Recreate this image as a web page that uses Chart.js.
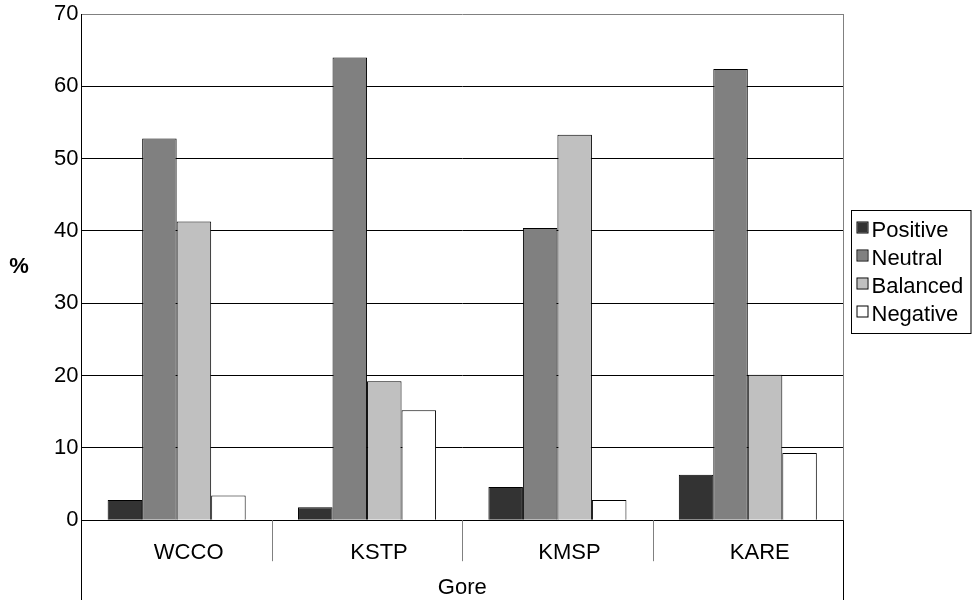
<!DOCTYPE html>
<html>
<head>
<meta charset="utf-8">
<script src="https://cdn.jsdelivr.net/npm/chart.js@4.4.0/dist/chart.umd.min.js"></script>
<style>
html, body { margin: 0; padding: 0; background: #fff; }
#wrap { width: 972px; height: 603px; position: relative; }
</style>
</head>
<body>
<div id="wrap"><canvas id="chart"></canvas></div>
<script>
// Data
const stations = ['WCCO', 'KSTP', 'KMSP', 'KARE'];
const groupLabel = 'Gore';
const seriesNames = ['Positive', 'Neutral', 'Balanced', 'Negative'];
const positive = [2.8, 1.8, 4.6, 6.3];
const neutral = [52.8, 64.0, 40.4, 62.4];
const balanced = [41.3, 19.2, 53.3, 20.1];
const negative = [3.4, 15.2, 2.8, 9.3];
const yMax = 70;
const yStep = 10;

const FONT = '"Liberation Sans", Arial, sans-serif';
const seriesColors = ['#333333', '#808080', '#c0c0c0', '#ffffff'];

// Extra decorations: category dividers, frame edges, "%" label and a boxed legend
const decorations = {
    id: 'decorations',
    afterDraw(chart) {
        const { ctx, chartArea, scales } = chart;
        const x = scales.x;
        const bottom = chart.height - 3;
        const half = (x.getPixelForValue(1) - x.getPixelForValue(0)) / 2;
        ctx.save();
        ctx.lineWidth = 1;

        // dividers between categories
        ctx.strokeStyle = '#808080';
        for (let i = 1; i < stations.length; i++) {
            const px = Math.round(x.getPixelForValue(i) - half) + 0.5;
            ctx.beginPath();
            ctx.moveTo(px, chartArea.bottom);
            ctx.lineTo(px, chartArea.bottom + 41);
            ctx.stroke();
        }

        // left and right edges running down through the label area
        const l = Math.round(chartArea.left) + 0.5;
        const r = Math.round(chartArea.right) + 0.5;
        ctx.strokeStyle = '#000';
        ctx.beginPath();
        ctx.moveTo(l, chartArea.bottom);
        ctx.lineTo(l, bottom);
        ctx.moveTo(r, chartArea.bottom);
        ctx.lineTo(r, bottom);
        ctx.stroke();
        ctx.strokeStyle = '#808080';
        ctx.beginPath();
        ctx.moveTo(r, chartArea.top);
        ctx.lineTo(r, chartArea.bottom);
        ctx.stroke();

        // "%" axis label, drawn upright
        ctx.fillStyle = '#000';
        ctx.font = 'bold 22px ' + FONT;
        ctx.textAlign = 'center';
        ctx.textBaseline = 'middle';
        ctx.fillText('%', 19, (chartArea.top + chartArea.bottom) / 2);

        // legend with a frame
        const fx = r + 8;
        const fy = Math.round((chartArea.top + chartArea.bottom) / 2) - 56.5;
        const rowH = 28;
        ctx.strokeStyle = '#000';
        ctx.strokeRect(fx, fy, 971 - fx, 123);
        ctx.font = '22px ' + FONT;
        ctx.textAlign = 'left';
        ctx.textBaseline = 'middle';
        chart.data.datasets.forEach((ds, i) => {
            const cy = fy + 19 + i * rowH;
            ctx.fillStyle = ds.backgroundColor;
            ctx.fillRect(fx + 6, cy - 7, 10, 10);
            ctx.strokeRect(fx + 5.5, cy - 7.5, 11, 11);
            ctx.fillStyle = '#000';
            ctx.fillText(ds.label, fx + 20, cy + 1);
        });
        ctx.restore();
    }
};

function makeSet(label, data, color) {
    return {
        label: label,
        data: data,
        backgroundColor: color,
        borderColor: '#000',
        borderWidth: 1,
        categoryPercentage: 0.725,
        barPercentage: 1.0
    };
}

new Chart(document.getElementById('chart'), {
    type: 'bar',
    data: {
        labels: stations,
        datasets: [
            makeSet(seriesNames[0], positive, seriesColors[0]),
            makeSet(seriesNames[1], neutral, seriesColors[1]),
            makeSet(seriesNames[2], balanced, seriesColors[2]),
            makeSet(seriesNames[3], negative, seriesColors[3])
        ]
    },
    options: {
        responsive: true,
        maintainAspectRatio: false,
        animation: false,
        layout: {
            padding: { left: 51, top: 3, right: 129, bottom: 2 }
        },
        plugins: {
            tooltip: { enabled: false },
            legend: { display: false }
        },
        scales: {
            x: {
                grid: { display: true, drawOnChartArea: false, drawTicks: false },
                border: { display: true, color: '#000' },
                ticks: {
                    color: '#000',
                    font: { family: FONT, size: 22 },
                    padding: 20,
                    labelOffset: 12,
                    maxRotation: 0
                },
                title: {
                    display: true,
                    text: groupLabel,
                    color: '#000',
                    font: { family: FONT, size: 22 },
                    padding: { top: -12, bottom: 0 }
                }
            },
            y: {
                min: 0,
                max: yMax,
                grid: {
                    drawTicks: false,
                    color: ctx => (ctx.tick && ctx.tick.value === yMax ? '#808080' : '#000')
                },
                border: { display: true, color: '#000' },
                ticks: {
                    stepSize: yStep,
                    color: '#000',
                    font: { family: FONT, size: 22, lineHeight: 1 },
                    padding: 3
                }
            }
        }
    },
    plugins: [decorations]
});
</script>
</body>
</html>
